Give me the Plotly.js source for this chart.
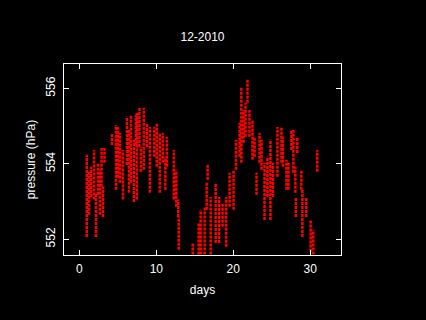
<!DOCTYPE html>
<html>
<head>
<meta charset="utf-8">
<script src="https://cdn.plot.ly/plotly-3.0.1.min.js"></script>
<style>html,body{margin:0;padding:0;background:#000;}#chart{width:426px;height:320px;}</style>
</head>
<body>
<div id="chart"></div>
<script>
// Pressure readings, grouped into short bursts: day of burst, lowest and highest value (hPa)
const burstDay = [0.95,1.26,1.52,1.90,2.16,2.42,2.68,2.88,3.07,3.26,
  4.24,4.75,5.01,5.27,5.66,6.18,6.44,6.70,7.09,7.34,7.47,7.80,7.99,8.38,8.77,
  9.16,9.74,10.06,10.45,10.84,11.17,11.36,12.27,12.59,12.85,12.91,
  14.73,15.50,15.76,16.28,16.54,16.67,17.06,17.71,18.16,18.61,19.07,19.52,20.04,20.36,
  20.82,21.05,21.33,21.59,21.85,22.11,22.50,22.76,23.02,23.41,23.67,24.06,24.44,24.83,
  25.16,25.74,26.26,26.45,26.91,27.17,27.55,27.81,28.07,28.13,28.33,28.85,28.98,29.49,
  30.05,30.40,30.91];
const burstLow = [552.06,552.65,553.12,553.05,552.06,553.18,552.65,553.39,552.59,554.03,
  554.50,553.31,553.63,553.50,553.05,553.97,553.23,553.50,552.99,554.50,553.05,554.45,553.79,553.84,554.45,
  553.23,554.19,553.92,553.23,554.03,553.31,553.92,553.05,552.86,552.59,551.72,
  551.59,551.59,551.59,551.59,552.78,553.58,551.59,551.90,551.90,552.33,551.80,552.86,552.78,553.84,
  554.19,554.03,554.56,554.72,555.62,554.72,554.11,554.19,553.18,554.03,553.84,552.51,553.12,552.51,
  553.12,553.66,554.03,553.92,553.31,553.31,554.37,553.76,553.23,552.59,554.29,553.31,552.06,552.59,
  551.67,551.59,553.79];
const burstHigh = [554.24,553.79,553.92,554.37,553.23,554.03,553.84,554.42,553.39,554.42,
  554.82,555.03,554.98,554.82,554.37,555.25,554.90,555.30,554.64,555.30,555.35,555.49,554.45,555.49,555.09,
  554.98,554.98,555.09,554.82,554.82,554.19,554.72,554.37,553.84,553.05,552.59,
  551.90,552.43,552.78,552.86,553.50,553.97,553.12,553.50,553.12,552.97,553.12,553.76,553.84,554.64,
  555.09,556.04,555.43,555.62,556.23,555.43,555.17,554.72,553.76,554.82,554.64,554.03,554.19,554.64,
  554.03,554.98,554.98,554.72,554.11,554.03,554.90,554.90,553.92,553.12,554.72,553.84,553.31,553.12,
  552.51,552.25,554.37];
const xTicks = [0, 10, 20, 30];
const yTicks = [552, 554, 556];

const xs = [], ys = [];
for (let i = 0; i < burstDay.length; i++) {
  xs.push(burstDay[i], burstDay[i], null);
  ys.push(burstLow[i], burstHigh[i], null);
}

const trace = {
  type: 'scatter', mode: 'lines', x: xs, y: ys,
  line: {color: '#ff0000', width: 2.5, dash: '3px,1px'}, connectgaps: false, hoverinfo: 'skip'
};

const axisCommon = {
  showgrid: false, zeroline: false, showline: true, linecolor: '#ffffff', linewidth: 1,
  mirror: 'ticks', ticks: 'inside', ticklen: 5, tickcolor: '#ffffff', tickwidth: 1,
  tickfont: {family: 'Liberation Sans, Arial, sans-serif', size: 12, color: '#ffffff'}
};

const layout = {
  width: 426, height: 320,
  paper_bgcolor: '#000000', plot_bgcolor: '#000000',
  font: {family: 'Liberation Sans, Arial, sans-serif', size: 12, color: '#ffffff'},
  margin: {l: 64, r: 85, t: 64, b: 65},
  showlegend: false,
  title: {text: '12-2010', x: 0.5, xref: 'paper', xanchor: 'center', y: 0.885, yref: 'container', yanchor: 'middle',
          font: {size: 12, color: '#ffffff'}},
  xaxis: Object.assign({}, axisCommon, {
    range: [-2, 34], tickvals: xTicks, ticktext: xTicks.map(String),
    ticklabelstandoff: 3,
    title: {text: 'days', standoff: 10, font: {size: 12, color: '#ffffff'}}
  }),
  yaxis: Object.assign({}, axisCommon, {
    range: [551.58, 556.65], tickvals: yTicks, ticktext: yTicks.map(String),
    tickangle: -90, ticklabelstandoff: 3,
    title: {text: 'pressure (hPa)', standoff: 6, font: {size: 12, color: '#ffffff'}}
  })
};

Plotly.newPlot('chart', [trace], layout, {displayModeBar: false, staticPlot: true});
</script>
</body>
</html>
